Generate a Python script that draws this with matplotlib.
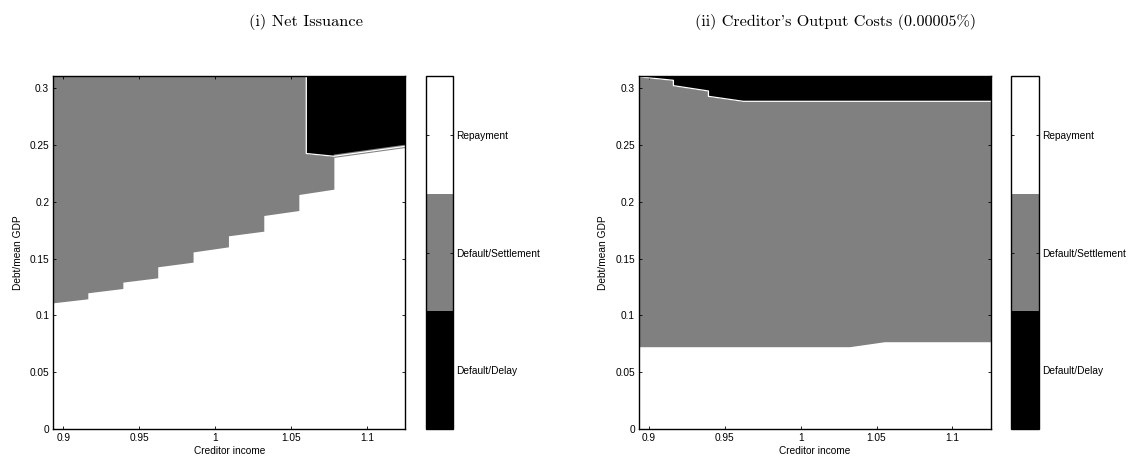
import numpy as np
import matplotlib
matplotlib.use('Agg')
import matplotlib.pyplot as plt
from matplotlib.colors import ListedColormap, BoundaryNorm
import matplotlib.cm as cm

plt.rcParams['font.family'] = ['Liberation Sans', 'DejaVu Sans']
plt.rcParams['font.size'] = 7.3

GRAY = '#808080'

# creditor income grid (step edges) shared by both panels
inc_grid = [0.8934, 0.9161, 0.9392, 0.9622, 0.9855, 1.0088, 1.0321, 1.0552, 1.0783]
inc_min, inc_max = 0.8934, 1.1252
debt_max = 0.311

# panel (i): repayment / settlement boundary, value at start and end of each grid cell
settle_start1 = [0.1112, 0.1200, 0.1294, 0.1429, 0.1560, 0.1702, 0.1881, 0.2066]
settle_end1 = [0.1147, 0.1238, 0.1332, 0.1470, 0.1605, 0.1743, 0.1925, 0.2113]
# panel (i): delay region lower edge
delay_inc1 = [1.0601, 1.0783, 1.1252]
delay_debt1 = [0.2427, 0.2403, 0.2490]

# panel (ii): repayment / settlement boundary
settle_inc2 = [0.8934, 1.0321, 1.0552, 1.1252]
settle_debt2 = [0.0725, 0.0725, 0.0769, 0.0769]
# panel (ii): delay region lower edge
delay_inc2 = [0.8934, 0.9161, 0.9161, 0.9392, 0.9392, 0.9622, 1.1252]
delay_debt2 = [0.3103, 0.3072, 0.3025, 0.2978, 0.2931, 0.2887, 0.2887]

titles = ['(i) Net Issuance', "(ii) Creditor's Output Costs (0.00005%)"]
cb_labels = ['Default/Delay', 'Default/Settlement', 'Repayment']
xticks = [0.9, 0.95, 1.0, 1.05, 1.1]
xticklabels = ['0.9', '0.95', '1', '1.05', '1.1']
yticks = [0, 0.05, 0.1, 0.15, 0.2, 0.25, 0.3]
yticklabels = ['0', '0.05', '0.1', '0.15', '0.2', '0.25', '0.3']


def step_line(grid, start, end):
    xs, ys = [], []
    for i in range(len(start)):
        xs += [grid[i], grid[i + 1]]
        ys += [start[i], end[i]]
    return np.array(xs), np.array(ys)


def style_axes(ax):
    ax.set_xlim(inc_min, inc_max)
    ax.set_ylim(0, debt_max)
    ax.set_xticks(xticks)
    ax.set_xticklabels(xticklabels)
    ax.set_yticks(yticks)
    ax.set_yticklabels(yticklabels)
    ax.tick_params(direction='in', top=True, right=True, length=2.5, width=0.6, pad=3)
    ax.set_xlabel('Creditor income', labelpad=2)
    ax.set_ylabel('Debt/mean GDP', labelpad=5)
    for s in ax.spines.values():
        s.set_linewidth(1.0)


def add_colorbar(fig, rect):
    cax = fig.add_axes(rect)
    cmap = ListedColormap(['black', GRAY, 'white'])
    norm = BoundaryNorm([0, 1, 2, 3], cmap.N)
    cb = fig.colorbar(cm.ScalarMappable(norm=norm, cmap=cmap), cax=cax, ticks=[0.5, 1.5, 2.5])
    cb.set_ticklabels(cb_labels)
    cb.outline.set_linewidth(1.0)
    cb.minorticks_off()
    cax.tick_params(direction='in', left=True, right=True, length=2.5, width=0.6, pad=2)
    return cb


fig = plt.figure(figsize=(11.4, 4.66), dpi=100)

# panel (i)
ax1 = fig.add_axes([0.0468, 0.0794, 0.3085, 0.7575])
sx, sy = step_line(inc_grid, settle_start1, settle_end1)
ax1.fill_between(sx, sy, debt_max, color=GRAY, lw=0)
ax1.plot(delay_inc1[1:], delay_debt1[1:], color=GRAY, lw=2.4, solid_capstyle='butt')
ax1.fill_between(delay_inc1, delay_debt1, debt_max, color='black', lw=0)
ax1.plot([delay_inc1[0]] + delay_inc1, [debt_max] + delay_debt1, color='white', lw=0.9)
style_axes(ax1)
add_colorbar(fig, [0.3734, 0.0794, 0.024, 0.7575])

# panel (ii)
ax2 = fig.add_axes([0.5605, 0.0794, 0.3085, 0.7575])
ax2.fill_between(settle_inc2, settle_debt2, debt_max, color=GRAY, lw=0)
ax2.fill_between(delay_inc2, delay_debt2, debt_max, color='black', lw=0)
ax2.plot(delay_inc2, delay_debt2, color='white', lw=0.9)
style_axes(ax2)
add_colorbar(fig, [0.8866, 0.0794, 0.0251, 0.7575])

fig.text(0.268, 0.953, titles[0], family='cmr10', fontsize=11.8, ha='center', va='center')
fig.text(0.733, 0.953, titles[1], family='cmr10', fontsize=11.6, ha='center', va='center')

fig.savefig('out.png', dpi=100)
